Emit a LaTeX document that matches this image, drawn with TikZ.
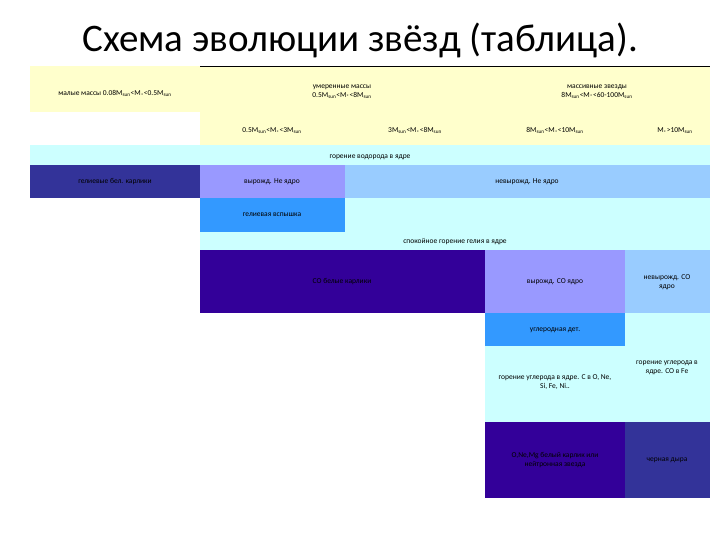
\documentclass[tikz,border=0pt]{standalone}
\usepackage{fontspec}
\setmainfont{Carlito}
\definecolor{yel}{HTML}{FFFFCC}
\definecolor{cy}{HTML}{CCFFFF}
\definecolor{dkb}{HTML}{333399}
\definecolor{lav}{HTML}{9999FF}
\definecolor{skb}{HTML}{99CCFF}
\definecolor{brb}{HTML}{3399FF}
\definecolor{ind}{HTML}{330099}
\newcommand{\Ms}{M\textsubscript{sun}}
\newcommand{\Mz}{M\textsubscript{*}}
\begin{document}
\begin{tikzpicture}[x=1pt,y=-1pt,
 tx/.style={font=\fontsize{7.5}{9}\selectfont,align=center,text=black}]
\useasboundingbox (0,0) rectangle (720,540);
\fill[white] (0,0) rectangle (720,540);
\node[font=\fontsize{39}{44}\selectfont] (title) at (360,40) {Схема эволюции звёзд (таблица).};
% row 1-2 yellow
\fill[yel] (30,66) rectangle (710,112);
\fill[yel] (200,112) rectangle (710,145);
\draw[black,line width=0.8] (200,66) -- (710,66);
\node[tx] (r1a) at (115,94) {малые массы 0.08\Ms<\Mz<0.5\Ms};
\node[tx] (r1b) at (342,92) {умеренные массы\\0.5\Ms<\Mz<8\Ms};
\node[tx] (r1c) at (597,92) {массивные звезды\\8\Ms<\Mz<60-100\Ms};
\node[tx] (r2a) at (272,131) {0.5\Ms<\Mz<3\Ms};
\node[tx] (r2b) at (415,131) {3\Ms<\Mz<8\Ms};
\node[tx] (r2c) at (555,131) {8\Ms<\Mz<10\Ms};
\node[tx] (r2d) at (675,131) {\Mz>10\Ms};
% row 3
\fill[cy] (30,145) rectangle (710,165);
\node[tx] (h) at (370,157) {горение водорода в ядре};
% row 4
\fill[dkb] (30,165) rectangle (200,198);
\fill[lav] (200,165) rectangle (345,198);
\fill[skb] (345,165) rectangle (710,198);
\node[tx] (hewd) at (115,182) {гелиевые бел. карлики};
\node[tx] (dhe) at (272,182) {вырожд. He ядро};
\node[tx] (ndhe) at (527,182) {невырожд. He ядро};
% row 5-6
\fill[brb] (200,198) rectangle (345,232);
\fill[cy] (345,198) rectangle (710,232);
\fill[cy] (200,232) rectangle (710,250);
\node[tx] (hef) at (272,215) {гелиевая вспышка};
\node[tx] (he) at (455,242) {спокойное горение гелия в ядре};
% row 7
\fill[ind] (200,250) rectangle (485,313);
\fill[lav] (485,250) rectangle (625,313);
\fill[skb] (625,250) rectangle (710,313);
\node[tx] (cowd) at (342,282) {CO белые карлики};
\node[tx] (dco) at (555,282) {вырожд. CO ядро};
\node[tx] (ndco) at (667,282) {невырожд. CO\\ядро};
% row 8-9
\fill[brb] (485,313) rectangle (625,346);
\fill[cy] (625,313) rectangle (710,422);
\fill[cy] (485,346) rectangle (625,422);
\node[tx] (cdet) at (555,330) {углеродная дет.};
\node[tx] (cb) at (555,382) {горение углерода в ядре. C в O, Ne,\\Si, Fe, Ni..};
\node[tx] (cfe) at (667,368) {горение углерода в\\ядре. CO в Fe};
% row 10
\fill[ind] (485,422) rectangle (625,498);
\fill[dkb] (625,422) rectangle (710,498);
\node[tx] (onewd) at (555,460) {O,Ne,Mg белый карлик или\\нейтронная звезда};
\node[tx] (bh) at (667,460) {черная дыра};
\end{tikzpicture}
\end{document}
